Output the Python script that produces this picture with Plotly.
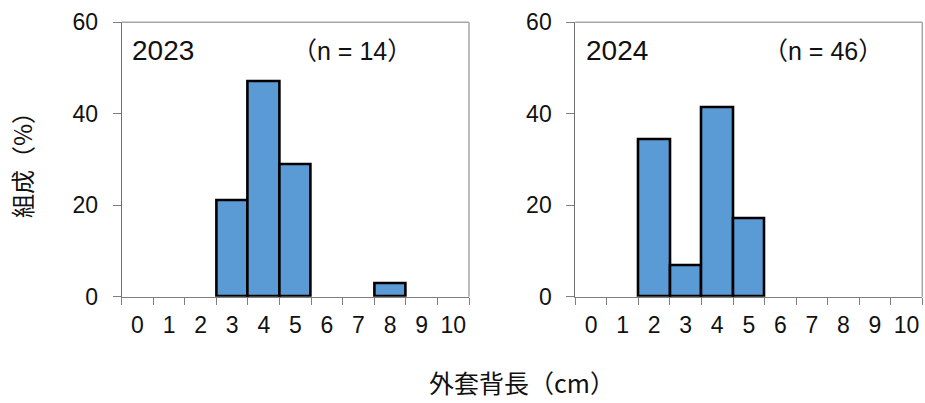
import plotly.graph_objects as go

# Mantle length classes (cm) and composition (%) per year
size_classes = ["0", "1", "2", "3", "4", "5", "6", "7", "8", "9", "10"]
share_2023 = [0, 0, 0, 21, 47, 29, 0, 0, 3, 0, 0]
share_2024 = [0, 0, 34.5, 6.9, 41.5, 17.1, 0, 0, 0, 0, 0]
year_labels = ["2023", "2024"]
sample_labels = ["（n = 14）", "（n = 46）"]
y_ticks = [0, 20, 40, 60]

W, H = 925, 403
NUM_FONT = "Liberation Sans, Arial, Noto Sans CJK JP"
JP_FONT = "Noto Sans CJK JP, Liberation Sans"
BAR_FILL = "#5B9BD5"

# panel geometry in pixels: (left, right), shared (top, bottom)
panels_px = [(121.7, 469.0), (575.3, 922.3)]
top_px, bottom_px = 22.3, 296.7

fig = go.Figure()

for i, (values, (x0, x1)) in enumerate(zip([share_2023, share_2024], panels_px)):
    xs = [c for c, v in zip(size_classes, values) if v > 0]
    ys = [v for v in values if v > 0]
    suffix = "" if i == 0 else str(i + 1)
    fig.add_trace(go.Bar(
        x=xs, y=ys, width=1,
        marker=dict(color=BAR_FILL, line=dict(color="black", width=2.6)),
        xaxis="x" + suffix, yaxis="y" + suffix,
        showlegend=False, hoverinfo="x+y",
    ))
    xdom = [x0 / W, x1 / W]
    ydom = [(H - bottom_px) / H, (H - top_px) / H]
    fig.layout["xaxis" + suffix] = dict(
        domain=xdom, type="category",
        categoryorder="array", categoryarray=size_classes,
        range=[-0.5, 10.5], tickson="boundaries",
        ticks="outside", ticklen=7, tickcolor="#808080", tickwidth=1,
        showline=True, linecolor="#808080", linewidth=1,
        showgrid=False, zeroline=False, fixedrange=True,
        tickangle=0, automargin=False,
        tickfont=dict(family=NUM_FONT, size=23, color="#111"),
        anchor="y" + suffix, ticklabelstandoff=8,
    )
    fig.layout["yaxis" + suffix] = dict(
        domain=ydom, range=[0, 60], tickvals=y_ticks,
        ticks="outside", ticklen=8, tickcolor="#808080", tickwidth=1,
        showline=True, linecolor="#6e6e6e", linewidth=1,
        showgrid=False, zeroline=False, fixedrange=True,
        automargin=False,
        tickfont=dict(family=NUM_FONT, size=23, color="#111"),
        anchor="x" + suffix, ticklabelstandoff=10,
    )
    # light frame on top and right
    xr, yr = "x" + suffix + " domain", "y" + suffix + " domain"
    fig.add_shape(type="line", xref=xr, yref=yr, x0=0, x1=1, y0=1, y1=1,
                  line=dict(color="#A6A6A6", width=1.5))
    fig.add_shape(type="line", xref=xr, yref=yr, x0=1, x1=1, y0=0, y1=1,
                  line=dict(color="#A6A6A6", width=1.5))
    # year label and sample size
    fig.add_annotation(text=year_labels[i], xref=xr, yref="paper",
                       x=0.025, y=(H - 50.5) / H, xanchor="left", yanchor="middle",
                       showarrow=False,
                       font=dict(family=NUM_FONT, size=28, color="#111"))
    n_center = [352.0, 822.5][i]
    fig.add_annotation(text=sample_labels[i], xref="paper", yref="paper",
                       x=n_center / W, y=(H - 50.5) / H, xanchor="center", yanchor="middle",
                       showarrow=False,
                       font=dict(family=NUM_FONT, size=25, color="#111"))

# axis titles
fig.add_annotation(text="組成（%）", xref="paper", yref="paper",
                   x=22 / W, y=(H - 159) / H, xanchor="center", yanchor="middle",
                   textangle=-90, showarrow=False,
                   font=dict(family=JP_FONT, size=24, color="#111"))
fig.add_annotation(text="外套背長（cm）", xref="paper", yref="paper",
                   x=521.7 / W, y=(H - 382) / H, xanchor="center", yanchor="middle",
                   showarrow=False,
                   font=dict(family=JP_FONT, size=25, color="#111"))

fig.update_layout(
    width=W, height=H,
    margin=dict(l=0, r=0, t=0, b=0),
    paper_bgcolor="white", plot_bgcolor="white",
    bargap=0,
)

fig.write_html("out.html")
